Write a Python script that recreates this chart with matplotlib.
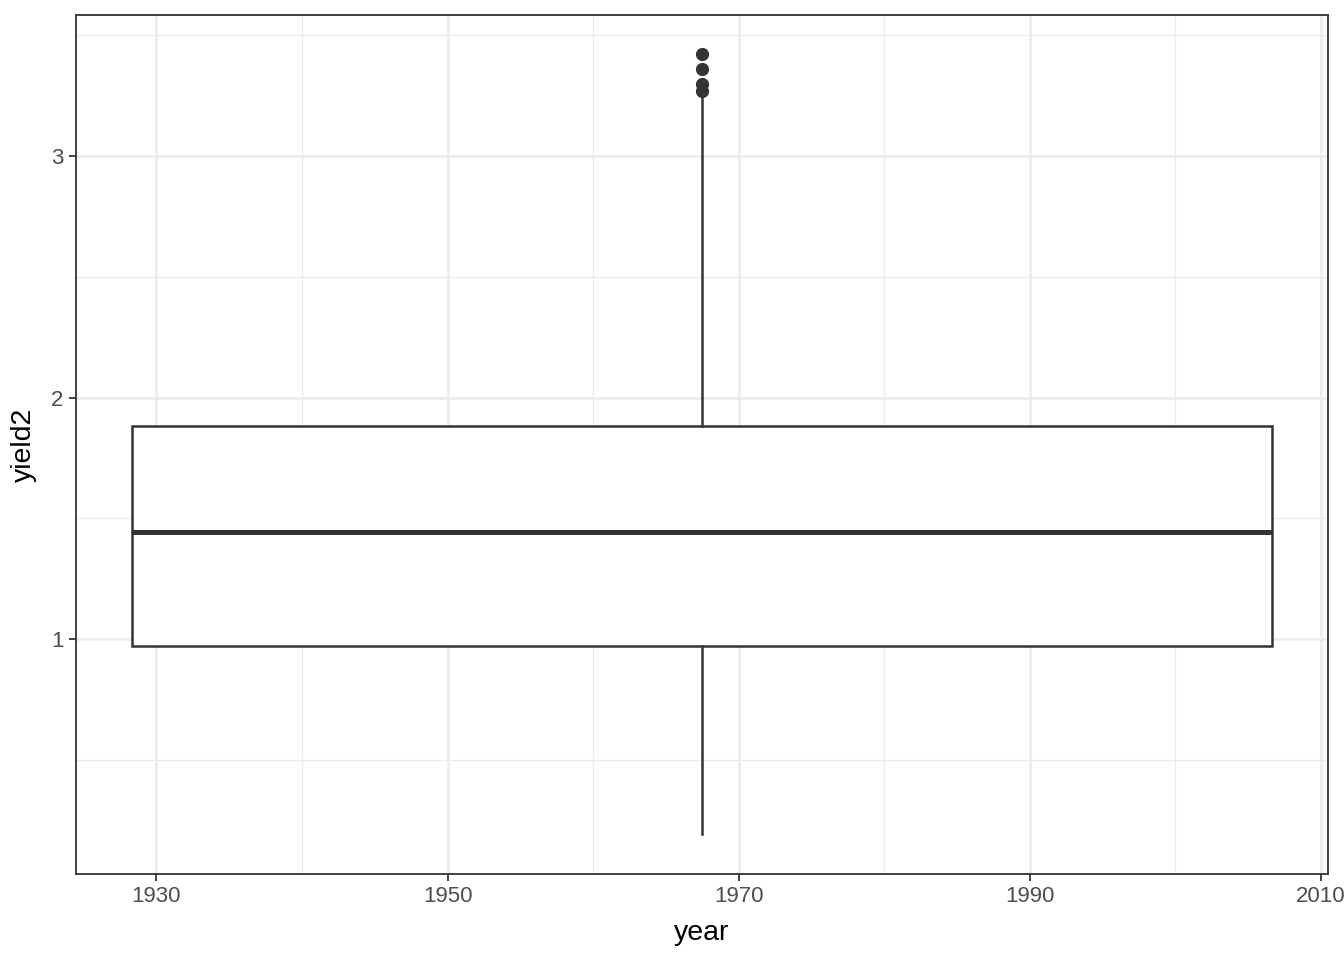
import matplotlib
matplotlib.use("Agg")
import matplotlib.pyplot as plt

# Box statistics for yield2 (single box over all years)
box_year_min = 1928.3
box_year_max = 2006.6
q1 = 0.971
median = 1.446
q3 = 1.884
whisker_low = 0.194
whisker_high = 3.24
outliers = [3.423, 3.358, 3.299, 3.267]

x_ticks = [1930, 1950, 1970, 1990, 2010]
y_ticks = [1, 2, 3]
x_minor = [1940, 1960, 1980, 2000]
y_minor = [1.5, 2.5, 0.5, 3.5]

plt.rcParams['font.family'] = ['Liberation Sans', 'DejaVu Sans']

fig = plt.figure(figsize=(13.44, 9.6), dpi=100)
ax = fig.add_axes([76/1344, (960-874)/960, (1328-76)/1344, (874-15)/960])

center = (box_year_min + box_year_max) / 2
width = box_year_max - box_year_min

stats = [dict(med=median, q1=q1, q3=q3, whislo=whisker_low, whishi=whisker_high,
              fliers=outliers)]
ax.bxp(stats, positions=[center], widths=[width], showcaps=False,
       patch_artist=True,
       boxprops=dict(facecolor='white', edgecolor='#333333', linewidth=1.8),
       medianprops=dict(color='#333333', linewidth=3.6),
       whiskerprops=dict(color='#333333', linewidth=1.8),
       flierprops=dict(marker='o', markerfacecolor='#333333', markeredgecolor='#333333',
                       markersize=8.5),
       zorder=3)

ax.set_xlim(1924.48, 2010.48)
ax.set_ylim(0.029, 3.583)

ax.set_xticks(x_ticks)
ax.set_xticklabels([str(v) for v in x_ticks])
ax.set_yticks(y_ticks)
ax.set_yticklabels([str(v) for v in y_ticks])
ax.set_xticks(x_minor, minor=True)
ax.set_yticks(y_minor, minor=True)

ax.grid(True, which='major', color='#EBEBEB', linewidth=1.8, zorder=0)
ax.grid(True, which='minor', color='#EBEBEB', linewidth=0.9, zorder=0)
ax.set_axisbelow(True)

ax.tick_params(which='major', length=5, width=1.3, color='#333333',
               labelsize=16, labelcolor='#4D4D4D', pad=4)
ax.tick_params(which='minor', length=0)

for s in ax.spines.values():
    s.set_color('#333333')
    s.set_linewidth(1.3)

ax.set_xlabel('year', fontsize=20.5, color='black', labelpad=9)
ax.set_ylabel('yield2', fontsize=20.5, color='black', labelpad=10)

fig.savefig('out.png', dpi=100)
